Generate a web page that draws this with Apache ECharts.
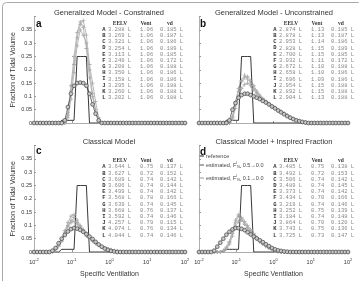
<!DOCTYPE html>
<html>
<head>
<meta charset="utf-8">
<script src="https://cdn.jsdelivr.net/npm/echarts@6/dist/echarts.min.js"></script>
<style>
html,body{margin:0;padding:0;background:#fff}
#main{width:359px;height:281px}
</style>
</head>
<body>
<div id="main"></div>
<script>
// specific ventilation grid (50 compartments, 10^-2 .. 10^2)
var sv = [0.0100, 0.0121, 0.0146, 0.0176, 0.0212, 0.0256, 0.0309, 0.0373, 0.0450, 0.0543,
          0.0655, 0.0791, 0.0954, 0.115, 0.139, 0.168, 0.202, 0.244, 0.295, 0.356,
          0.429, 0.518, 0.625, 0.754, 0.910, 1.10, 1.33, 1.60, 1.93, 2.33,
          2.81, 3.39, 4.09, 4.94, 5.96, 7.20, 8.69, 10.5, 12.6, 15.3,
          18.4, 22.2, 26.8, 32.4, 39.1, 47.1, 56.9, 68.7, 82.9, 100];

// each curve: first non-zero compartment index + values from there
var refStart = 9, refVals = [0.01, 0.01, 0.01, 0.01, 0.01, 0.25, 0.25, 0.25, 0.25];

var aCircStart = 10, aCirc = [0.01, 0.06, 0.11, 0.14, 0.15, 0.152, 0.15, 0.14, 0.11, 0.07, 0.035, 0.01];
var aGrayStart = 11;
var aGray1 = [0.03, 0.12, 0.22, 0.32, 0.37, 0.385, 0.33, 0.22, 0.15, 0.08, 0.02];
var aGray2 = [0.02, 0.09, 0.19, 0.29, 0.35, 0.33, 0.30, 0.20, 0.11, 0.05, 0.005];
var aGray3 = [0.04, 0.14, 0.25, 0.34, 0.38, 0.36, 0.28, 0.17, 0.10, 0.04, 0.01];

var bCircStart = 10, bCirc = [0.01, 0.05, 0.075, 0.095, 0.105, 0.11, 0.11, 0.105, 0.1, 0.095, 0.09, 0.083, 0.077, 0.07, 0.062, 0.055, 0.047, 0.04, 0.033, 0.026, 0.02, 0.015, 0.01, 0.007, 0.004, 0.002];
var bGrayStart = 11;
var bGray1 = [0.02, 0.07, 0.12, 0.155, 0.17, 0.175, 0.16, 0.14, 0.12, 0.105, 0.092, 0.082, 0.073, 0.065, 0.058, 0.05, 0.043, 0.036, 0.029, 0.022, 0.016, 0.011, 0.007, 0.004, 0.002];
var bGray2 = [0.015, 0.055, 0.1, 0.13, 0.145, 0.15, 0.14, 0.125, 0.11, 0.098, 0.088, 0.079, 0.071, 0.064, 0.056, 0.049, 0.042, 0.035, 0.028, 0.021, 0.015, 0.01, 0.006, 0.003, 0.001];
var bGray3 = [0.025, 0.08, 0.13, 0.16, 0.18, 0.165, 0.15, 0.13, 0.115, 0.1, 0.088, 0.078, 0.07, 0.062, 0.055, 0.048, 0.041, 0.034, 0.027, 0.02, 0.014, 0.009, 0.005, 0.003, 0.001];

var cCircStart = 6, cCirc = [0.005, 0.015, 0.033, 0.05, 0.064, 0.077, 0.086, 0.09, 0.088, 0.083, 0.076, 0.067, 0.058, 0.049, 0.038, 0.028, 0.02, 0.013, 0.008, 0.004, 0.002];
var cGrayStart = 7;
var cGray1 = [0.01, 0.025, 0.045, 0.075, 0.11, 0.135, 0.14, 0.12, 0.1, 0.085, 0.07, 0.055, 0.045, 0.035, 0.027, 0.02, 0.015, 0.011, 0.008, 0.005, 0.003];
var cGray2 = [0.008, 0.02, 0.04, 0.065, 0.095, 0.12, 0.115, 0.105, 0.09, 0.075, 0.06, 0.05, 0.04, 0.032, 0.025, 0.019, 0.014, 0.01, 0.007, 0.004, 0.002];
var cGray3 = [0.012, 0.03, 0.05, 0.08, 0.1, 0.11, 0.13, 0.11, 0.095, 0.08, 0.066, 0.053, 0.043, 0.034, 0.026, 0.02, 0.014, 0.01, 0.007, 0.004, 0.002];

var dCircStart = 5, dCirc = [0.005, 0.02, 0.035, 0.05, 0.065, 0.076, 0.085, 0.09, 0.09, 0.087, 0.082, 0.074, 0.066, 0.058, 0.051, 0.044, 0.037, 0.029, 0.022, 0.015, 0.01, 0.006, 0.004, 0.002, 0.001];
var dGrayStart = 8;
var dGray1 = [0.005, 0.015, 0.035, 0.07, 0.11, 0.135, 0.13, 0.115, 0.1, 0.085, 0.07, 0.055, 0.042, 0.032, 0.023, 0.016, 0.01, 0.006, 0.003];
var dGray2 = [0.004, 0.012, 0.03, 0.06, 0.095, 0.115, 0.12, 0.105, 0.09, 0.075, 0.062, 0.05, 0.039, 0.03, 0.022, 0.015, 0.009, 0.005, 0.002];
var dGray3 = [0.006, 0.018, 0.04, 0.08, 0.12, 0.14, 0.125, 0.105, 0.092, 0.08, 0.066, 0.052, 0.04, 0.031, 0.023, 0.016, 0.01, 0.006, 0.003];

// tables
var rowIds = ['A','B','C','D','E','F','G','H','I','J','K','L'];
var aEelv = ['3.288','3.269','3.321','3.254','3.113','3.249','3.208','3.350','3.158','3.295','3.260','3.202'];
var aVent = ['1.06','1.06','1.06','1.06','1.06','1.06','1.06','1.06','1.06','1.06','1.06','1.06'];
var aVd   = ['0.185','0.187','0.186','0.189','0.185','0.172','0.188','0.186','0.186','0.188','0.188','0.188'];
var bEelv = ['2.874','2.878','2.953','2.828','2.700','3.032','2.672','2.658','2.696','2.954','2.892','2.904'];
var bVent = ['1.13','1.13','1.14','1.15','1.15','1.11','1.10','1.10','1.09','1.15','1.15','1.13'];
var bVd   = ['0.185','0.187','0.186','0.189','0.185','0.172','0.188','0.186','0.186','0.188','0.188','0.188'];
var cEelv = ['3.644','3.627','3.689','3.606','3.499','3.568','3.639','3.668','3.592','4.257','4.074','4.044'];
var cVent = ['0.75','0.72','0.74','0.74','0.74','0.78','0.74','0.76','0.74','0.79','0.76','0.74'];
var cVd   = ['0.137','0.152','0.142','0.144','0.142','0.166','0.145','0.137','0.146','0.115','0.134','0.146'];
var dEelv = ['3.485','3.492','3.506','3.489','3.373','3.434','3.219','3.252','3.184','3.864','3.743','3.725'];
var dVent = ['0.75','0.72','0.74','0.74','0.74','0.70','0.74','0.75','0.74','0.70','0.75','0.73'];
var dVd   = ['0.138','0.153','0.142','0.145','0.142','0.166','0.146','0.139','0.148','0.120','0.136','0.147'];

var yTicks = [0, 0.05, 0.1, 0.15, 0.2, 0.25, 0.3, 0.35];

function pad(start, vals) {
  var out = [];
  for (var i = 0; i < sv.length; i++) {
    var k = i - start;
    out.push([sv[i], (k >= 0 && k < vals.length) ? vals[k] : 0]);
  }
  return out;
}

var SANS = 'Liberation Sans, Arial, sans-serif';
var MONO = 'Liberation Mono, monospace';
var plus = 'path://M4,0L6,0L6,4L10,4L10,6L6,6L6,10L4,10L4,6L0,6L0,4L4,4Z';

var grids = [
  {left: 34, top: 16.6, width: 151, height: 106.4},
  {left: 199, top: 16.6, width: 149, height: 106.4},
  {left: 34, top: 145.6, width: 151, height: 106.4},
  {left: 199, top: 145.6, width: 149, height: 106.4}
];

var xAxes = [], yAxes = [], series = [];
for (var g = 0; g < 4; g++) {
  var bottomRow = g >= 2, leftCol = (g % 2) === 0;
  xAxes.push({
    type: 'log', logBase: 10, min: 0.01, max: 100, gridIndex: g,
    name: bottomRow ? 'Specific Ventilation' : '', nameLocation: 'middle', nameGap: 19,
    nameTextStyle: {fontSize: 7, color: '#333', fontFamily: SANS},
    axisLine: {show: true, lineStyle: {color: '#999', width: 0.8}},
    axisTick: {show: true, inside: true, length: 2, lineStyle: {color: '#999'}},
    splitLine: {show: false},
    axisLabel: {
      show: bottomRow, margin: 6, color: '#333',
      formatter: function (v) {
        var e = Math.round(Math.log(v) / Math.LN10);
        return '{b|10}{s|' + e + '}';
      },
      rich: {
        b: {fontSize: 5.5, fontFamily: SANS, color: '#333'},
        s: {fontSize: 4, fontFamily: SANS, color: '#333', padding: [0, 0, 4, 0]}
      }
    }
  });
  yAxes.push({
    type: 'value', min: 0, max: 0.4, interval: 0.05, gridIndex: g,
    name: leftCol ? 'Fraction of Tidal Volume' : '', nameLocation: 'middle', nameGap: 17,
    nameTextStyle: {fontSize: 7, color: '#333', fontFamily: SANS},
    axisLine: {show: true, lineStyle: {color: '#999', width: 0.8}},
    axisTick: {show: true, inside: true, length: 2, lineStyle: {color: '#999'}},
    splitLine: {show: false},
    axisLabel: {
      show: leftCol, margin: 2, fontSize: 5.5, color: '#333', fontFamily: SANS,
      formatter: function (v) { return yTicks.indexOf(Math.round(v * 100) / 100) >= 0 ? String(Math.round(v * 100) / 100) : ''; }
    }
  });
}

var panels = [
  {circStart: aCircStart, circ: aCirc, grayStart: aGrayStart, grays: [aGray1, aGray2, aGray3]},
  {circStart: bCircStart, circ: bCirc, grayStart: bGrayStart, grays: [bGray1, bGray2, bGray3]},
  {circStart: cCircStart, circ: cCirc, grayStart: cGrayStart, grays: [cGray1, cGray2, cGray3]},
  {circStart: dCircStart, circ: dCirc, grayStart: dGrayStart, grays: [dGray1, dGray2, dGray3]}
];

panels.forEach(function (p, g) {
  p.grays.forEach(function (vals) {
    series.push({
      type: 'line', xAxisIndex: g, yAxisIndex: g, data: pad(p.grayStart, vals),
      symbol: plus, symbolSize: 4,
      itemStyle: {color: '#aaa'}, lineStyle: {color: '#aaa', width: 0.8}
    });
  });
  series.push({
    type: 'line', xAxisIndex: g, yAxisIndex: g, data: pad(p.circStart, p.circ),
    symbol: 'circle', symbolSize: 3.8,
    itemStyle: {color: '#c8c8c8', borderColor: '#444', borderWidth: 0.7},
    lineStyle: {color: '#444', width: 0.8}
  });
  series.push({
    type: 'line', xAxisIndex: g, yAxisIndex: g, data: pad(refStart, refVals),
    symbol: 'none', lineStyle: {color: '#222', width: 0.9}
  });
});

// text overlays
var gfx = [];
gfx.push({type: 'rect', silent: true, shape: {x: 2.5, y: 2.5, width: 360, height: 300, r: 4},
          style: {fill: 'none', stroke: '#aaa', lineWidth: 1}});

function txt(x, y, s, font, fill, align) {
  gfx.push({type: 'text', x: x, y: y, silent: true,
            style: {text: s, font: font, fill: fill, textAlign: align || 'left', textVerticalAlign: 'middle'}});
}

var titles = [
  ['Generalized Model - Constrained', 109, 12.5],
  ['Generalized Model - Unconstrained', 274, 12.5],
  ['Classical Model', 109, 141.5],
  ['Classical Model + Inspired Fraction', 274, 141.5]
];
titles.forEach(function (t) { txt(t[1], t[2], t[0], '7.5px ' + SANS, '#333', 'center'); });

txt(36, 24, 'a', 'bold 10px ' + SANS, '#111');
txt(200, 24, 'b', 'bold 10px ' + SANS, '#111');
txt(36, 151, 'c', 'bold 10px ' + SANS, '#111');
txt(200, 152, 'd', 'bold 10px ' + SANS, '#111');

var tables = [
  {x: 104, y: 23.5, eelv: aEelv, vent: aVent, vd: aVd},
  {x: 275, y: 23.5, eelv: bEelv, vent: bVent, vd: bVd},
  {x: 104, y: 161, eelv: cEelv, vent: cVent, vd: cVd},
  {x: 275, y: 161, eelv: dEelv, vent: dVent, vd: dVd}
];
tables.forEach(function (t) {
  txt(t.x + 16, t.y, 'EELV', 'bold 5.5px Liberation Serif, serif', '#333', 'center');
  txt(t.x + 42, t.y, 'Vent', 'bold 5.5px Liberation Serif, serif', '#333', 'center');
  txt(t.x + 66, t.y, 'vd', 'bold 5.5px Liberation Serif, serif', '#333', 'center');
  for (var r = 0; r < rowIds.length; r++) {
    var yy = t.y + 6 + r * 6.2;
    txt(t.x, yy, rowIds[r], 'bold 5.5px ' + MONO, '#333', 'center');
    txt(t.x + 4, yy, t.eelv[r] + ' L', '5.5px ' + MONO, '#888');
    txt(t.x + 36, yy, t.vent[r], '5.5px ' + MONO, '#888');
    txt(t.x + 56, yy, t.vd[r] + ' L', '5.5px ' + MONO, '#888');
  }
});

// legend in panel d
var legendRows = [
  {y: 156, color: '#222', text: 'reference'},
  {y: 165, color: '#555', text: 'estimated, F{sup|I}{sub|N₂} 0.5→0.0'},
  {y: 178, color: '#999', text: 'estimated, F{sup|I}{sub|N₂} 0.1→0.0'}
];
legendRows.forEach(function (l) {
  gfx.push({type: 'line', silent: true, shape: {x1: 199, y1: l.y, x2: 204, y2: l.y},
            style: {stroke: l.color, lineWidth: 1}});
  gfx.push({type: 'text', x: 206, y: l.y, silent: true,
            style: {text: l.text, font: '5.5px ' + SANS, fill: '#444', textVerticalAlign: 'middle',
                    rich: {sup: {fontSize: 3.5, fontFamily: SANS, fill: '#444', padding: [0, 0, 4, 0]},
                           sub: {fontSize: 3.5, fontFamily: SANS, fill: '#444', padding: [4, 0, 0, 0]}}}});
});

var chart = echarts.init(document.getElementById('main'));
chart.setOption({
  animation: false,
  grid: grids,
  xAxis: xAxes,
  yAxis: yAxes,
  series: series,
  graphic: gfx
});
</script>
</body>
</html>
